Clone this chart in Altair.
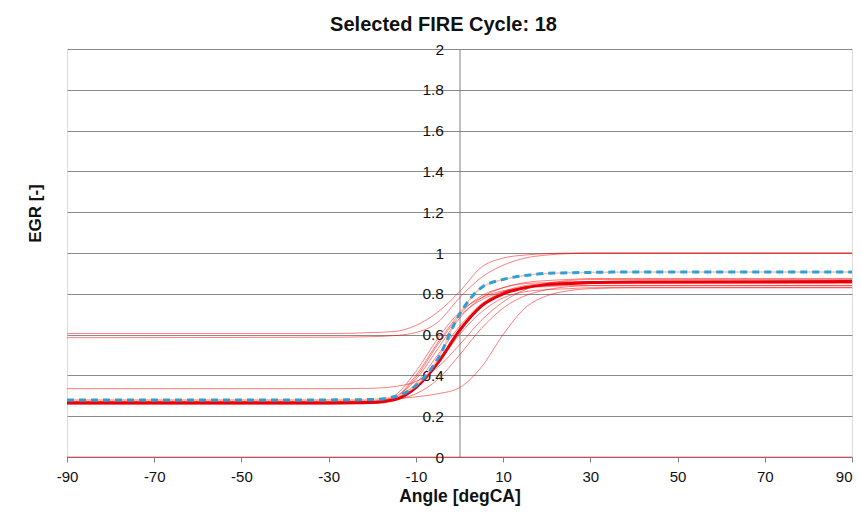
import altair as alt
import pandas as pd

# ---- data ----
angles = [-90, -30, -20, -15, -10, -5, 0, 5, 10, 15, 20, 25, 30, 40, 90]

cycle_a = [0.605, 0.605, 0.61, 0.615, 0.645, 0.71, 0.81, 0.93, 0.975, 0.99, 0.997, 1.0, 1.0, 1.0, 1.0]
cycle_b = [0.585, 0.587, 0.59, 0.595, 0.61, 0.66, 0.78, 0.88, 0.94, 0.975, 0.99, 0.997, 1.0, 1.0, 1.0]
cycle_c = [0.335, 0.335, 0.337, 0.345, 0.37, 0.44, 0.55, 0.67, 0.76, 0.82, 0.85, 0.865, 0.87, 0.87, 0.87]
cycle_d = [0.28, 0.28, 0.282, 0.285, 0.295, 0.31, 0.34, 0.44, 0.60, 0.73, 0.79, 0.815, 0.825, 0.83, 0.83]
cycle_e = [0.27, 0.27, 0.272, 0.28, 0.31, 0.38, 0.50, 0.63, 0.73, 0.79, 0.82, 0.835, 0.84, 0.84, 0.84]
cycle_f = [0.265, 0.265, 0.268, 0.29, 0.38, 0.53, 0.68, 0.78, 0.83, 0.855, 0.865, 0.87, 0.875, 0.875, 0.875]
cycle_g = [0.26, 0.26, 0.262, 0.285, 0.36, 0.50, 0.64, 0.75, 0.81, 0.84, 0.85, 0.855, 0.86, 0.86, 0.86]
cycle_h = [0.27, 0.27, 0.272, 0.29, 0.39, 0.55, 0.69, 0.77, 0.81, 0.83, 0.84, 0.845, 0.85, 0.85, 0.85]
cycle_i = [0.265, 0.265, 0.27, 0.30, 0.42, 0.58, 0.71, 0.78, 0.815, 0.83, 0.835, 0.84, 0.84, 0.84, 0.84]
cycle_j = [0.275, 0.275, 0.278, 0.295, 0.35, 0.46, 0.60, 0.71, 0.78, 0.81, 0.82, 0.825, 0.83, 0.83, 0.83]
cycle_k = [0.262, 0.262, 0.265, 0.29, 0.40, 0.56, 0.70, 0.79, 0.83, 0.85, 0.855, 0.86, 0.86, 0.86, 0.86]
cycle_zero = [0, 0, 0, 0, 0, 0, 0, 0, 0, 0, 0, 0, 0, 0, 0]

main_cycle = [0.265, 0.265, 0.267, 0.28, 0.34, 0.46, 0.62, 0.74, 0.80, 0.83, 0.845, 0.85, 0.855, 0.858, 0.86]
selected_cycle = [0.28, 0.28, 0.282, 0.295, 0.35, 0.48, 0.70, 0.83, 0.87, 0.89, 0.90, 0.903, 0.905, 0.907, 0.907]

x_ticks = [-90, -70, -50, -30, -10, 10, 30, 50, 70, 90]
y_ticks = [0, 0.2, 0.4, 0.6, 0.8, 1, 1.2, 1.4, 1.6, 1.8, 2]

thin = {
    "A": cycle_a, "B": cycle_b, "C": cycle_c, "D": cycle_d, "E": cycle_e,
    "F": cycle_f, "G": cycle_g, "H": cycle_h, "I": cycle_i, "J": cycle_j,
    "K": cycle_k, "Z": cycle_zero,
}
rows = []
for name, vals in thin.items():
    for a, v in zip(angles, vals):
        rows.append({"cycle": name, "angle": a, "egr": v})
thin_df = pd.DataFrame(rows)
main_df = pd.DataFrame({"angle": angles, "egr": main_cycle})
sel_df = pd.DataFrame({"angle": angles, "egr": selected_cycle})

W, H = 785, 408
FONT = "Liberation Sans"

x_enc = alt.X(
    "angle:Q",
    scale=alt.Scale(domain=[-90, 90], nice=False, zero=False),
    axis=alt.Axis(
        values=x_ticks, title="Angle [degCA]", grid=False,
        labelExpr="'' + datum.value",
        domainColor="#808080", tickColor="#808080", tickSize=5,
        labelFont=FONT, labelFontSize=15, labelColor="#111111", labelPadding=7,
        labelFlush=False,
        labelAlign={"condition": {"test": "datum.value >= 90", "value": "right"}, "value": "center"},
        titleFont=FONT, titleFontSize=17.5, titleFontWeight="bold",
        titleColor="#111111", titlePadding=3,
    ),
)
y_enc = alt.Y(
    "egr:Q",
    scale=alt.Scale(domain=[0, 2], nice=False),
    axis=alt.Axis(
        values=y_ticks, offset=-W / 2, title="EGR [-]",
        labelExpr="'' + datum.value",
        grid=True, gridColor="#8a8a8a", gridWidth=1,
        domainColor="#808080", ticks=False,
        labelFont=FONT, labelFontSize=15.5, labelColor="#111111", labelPadding=16,
        titleFont=FONT, titleFontSize=17, titleFontWeight="bold", titleColor="#111111",
        titleX=-W / 2 - 32, titleY=164, titleAngle=270,
        titleAlign="center", titleBaseline="middle",
    ),
)

thin_layer = alt.Chart(thin_df).mark_line(
    color="#ff0000", strokeWidth=1, strokeOpacity=0.5, interpolate="monotone"
).encode(x=x_enc, y=y_enc, detail="cycle:N")

main_layer = alt.Chart(main_df).mark_line(
    color="#e8000b", strokeWidth=3, interpolate="monotone"
).encode(x=x_enc, y=y_enc)

sel_under = alt.Chart(sel_df).mark_line(
    color="#f7c3a8", strokeWidth=1.5, interpolate="monotone"
).encode(x=x_enc, y=y_enc)

sel_layer = alt.Chart(sel_df).mark_line(
    color="#2f9fd6", strokeWidth=3, strokeDash=[7, 5], interpolate="monotone"
).encode(x=x_enc, y=y_enc)

chart = alt.layer(thin_layer, main_layer, sel_under, sel_layer).properties(
    width=W, height=H,
    title=alt.TitleParams(
        "Selected FIRE Cycle: 18", font=FONT, fontSize=20, fontWeight="bold",
        color="#111111", anchor="middle", offset=7, dx=-16,
    ),
    autosize=alt.AutoSizeParams(type="none"),
    padding={"left": 59, "top": 41, "right": 1, "bottom": 55},
).configure_view(
    stroke="#808080", strokeWidth=1
).configure(background="white")

chart.save("out.html", embed_options={"renderer": "svg", "actions": False})
